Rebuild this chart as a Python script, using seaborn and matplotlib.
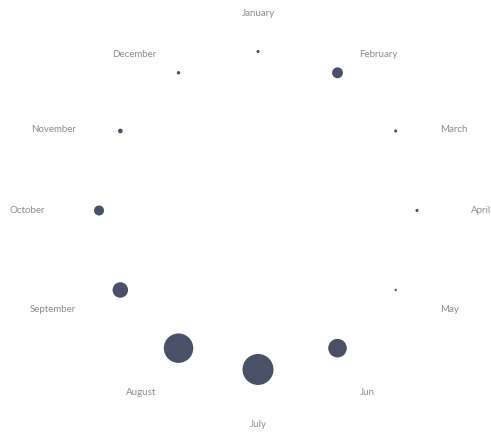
import numpy as np
import pandas as pd
import seaborn as sns
import matplotlib.pyplot as plt

# dados: um ponto por mês, tamanho da bolha = valor
meses = ['January', 'February', 'March', 'April', 'May', 'Jun',
         'July', 'August', 'September', 'October', 'November', 'December']
valores = [2, 7, 2, 2, 1.5, 12, 20, 19, 10, 6.5, 3, 2.2]

df = pd.DataFrame({'mes': meses, 'valor': valores})
df['theta'] = np.deg2rad(np.arange(len(meses)) * 30)
df['r'] = 1.0

cor_ponto = '#4a5068'
cor_texto = '#8c8c8c'

sns.set_style('white')
plt.rcParams['font.family'] = ['Lato', 'DejaVu Sans']

fig = plt.figure(figsize=(4.91, 4.37), dpi=100)
ax = fig.add_axes([0.2017, 0.1545, 0.6476, 0.7277], projection='polar')
ax.set_theta_zero_location('N')
ax.set_theta_direction(-1)

# diametro da bolha proporcional ao valor (px -> pt)
tamanhos = (df['valor'] * 1.55 * 0.72) ** 2
sns.scatterplot(data=df, x='theta', y='r', s=tamanhos, color=cor_ponto,
                edgecolor='none', legend=False, clip_on=False, ax=ax)

ax.set_ylim(0, 1)
ax.set_xticks([])
ax.set_yticks([])
ax.grid(False)
ax.spines['polar'].set_visible(False)
ax.set_xlabel('')
ax.set_ylabel('')
ax.patch.set_alpha(0)

# rótulos dos meses em volta do círculo (deslocados a partir do ponto)
for t, nome in zip(df['theta'], df['mes']):
    s, c = np.sin(t), np.cos(t)
    if abs(s) < 0.3:
        ha = 'center'
    else:
        ha = 'left' if s > 0 else 'right'
    dx = 54 * np.sign(s) * abs(s) ** 1.3
    dy = 38 * c ** 5 if c > 0 else -55 * abs(c) ** 1.5
    ax.annotate(nome, xy=(t, 1), xytext=(dx * 0.72, dy * 0.72),
                textcoords='offset points', ha=ha, va='center',
                fontsize=7, color=cor_texto, annotation_clip=False)

fig.savefig('out.png', dpi=100)
